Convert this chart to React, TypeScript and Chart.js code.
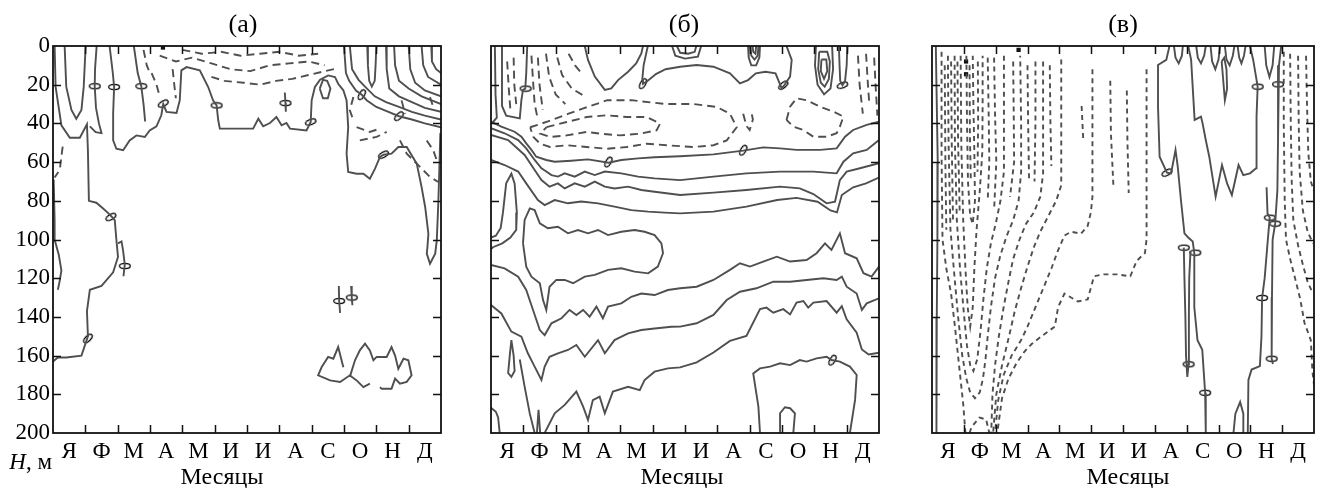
import React, { useEffect, useRef } from "react";
import { Chart, registerables } from "chart.js";
Chart.register(...registerables);

type Pt = [number, number];

const MONTHS = ["Я", "Ф", "М", "А", "М", "И", "И", "А", "С", "О", "Н", "Д"];
const DEPTH_TICKS = [0, 20, 40, 60, 80, 100, 120, 140, 160, 180, 200];
const MONTH_MARKS = [1, 2, 3, 4, 5, 6, 7, 8, 9, 10, 11];
const INNER_DEPTH_MARKS = [20, 40, 60, 80, 100, 120, 140, 160, 180];

// ---------------- panel (а) ----------------
const aSolid: Pt[][] = [
  [[0.36, 0], [0.41, 21], [0.57, 33], [0.72, 37.6], [0.88, 33], [0.95, 21], [1.01, 0]],
  [[0.05, 0], [0.08, 21], [0.26, 41], [0.52, 47.4], [0.83, 47.4], [1.05, 40.5], [1.08, 54], [1.11, 80], [1.34, 81], [1.55, 84], [1.75, 87], [1.91, 90], [1.96, 100], [2.01, 109], [1.86, 117], [1.5, 124], [1.14, 126], [1.05, 137], [1.08, 150], [0.88, 160], [0.41, 161], [0.15, 161], [0, 163]],
  [[1.35, 0], [1.3, 12], [1.29, 20.8], [1.33, 32], [1.42, 40], [1.5, 45], [1.32, 44.5], [1.14, 41.5]],
  [[2.5, 0], [2.62, 14], [2.73, 20.8], [2.8, 30], [2.85, 39]],
  [[2.01, 102], [2.12, 101], [2.17, 106], [2.22, 113], [2.18, 119]],
  [[1.75, 0], [1.85, 14], [1.89, 21.2], [1.86, 35], [1.86, 48.8], [1.96, 53.1], [2.17, 53.9], [2.37, 48.8], [2.58, 46.2], [2.84, 47], [2.99, 43.6], [3.2, 41.5], [3.35, 35.8], [3.41, 30], [3.51, 34.1], [3.82, 34.6], [3.92, 28.1], [3.97, 12.6], [4.13, 10.9], [4.54, 12.6], [4.8, 21.2], [4.95, 28.1], [5.06, 30.7], [5.11, 38.4], [5.16, 42.7], [5.57, 42.7], [6.19, 42.7], [6.35, 37.6], [6.5, 41.5], [6.71, 39.8], [6.91, 36.7], [7.07, 41], [7.22, 39.8], [7.33, 42.7], [7.84, 43.6], [7.97, 39.3], [8.0, 28.1], [8.1, 21.2], [8.26, 17.4], [8.51, 15.2], [8.72, 16], [8.82, 19.5], [8.98, 22.9], [9.08, 28.1], [9.13, 41.9], [9.08, 55.6], [9.13, 65.1], [9.39, 66], [9.6, 66], [9.8, 68.6], [9.96, 63.4], [10.11, 57.4], [10.22, 56.2], [10.47, 55.6], [10.68, 52.2], [10.94, 52.2], [11.25, 60.8], [11.4, 72.9], [11.51, 83.2], [11.61, 97], [11.58, 104], [11.56, 107.3], [11.66, 112.5], [11.82, 107.3], [11.87, 100.4], [11.92, 79.8], [11.95, 62.5], [11.98, 45]],
  [[7.17, 24], [7.19, 29.5], [7.2, 34]],
  [[8.25, 22], [8.35, 17.5], [8.48, 18], [8.58, 22], [8.5, 27], [8.35, 27], [8.25, 22]],
  [[9.0, 0], [9.06, 14], [9.16, 18], [9.37, 23], [9.55, 25.2], [9.7, 28], [10.0, 31.5], [10.3, 33.5], [10.7, 36.3], [11.1, 38], [11.5, 40], [12, 42]],
  [[9.18, 0], [9.25, 12], [9.45, 17.5], [9.65, 21], [9.95, 26], [10.3, 29], [10.7, 31.5], [11.1, 34], [11.5, 36], [12, 38]],
  [[9.72, 0], [9.74, 10], [9.78, 18], [9.86, 21], [9.95, 18], [9.98, 9], [10.0, 0]],
  [[10.3, 0], [10.32, 12], [10.4, 22], [10.7, 26], [11.1, 29], [11.5, 32], [12, 34]],
  [[10.55, 0], [10.58, 10], [10.7, 18], [11.0, 22], [11.4, 26], [12, 30]],
  [[11.0, 0], [11.05, 12], [11.2, 19], [11.5, 23], [12, 26]],
  [[11.4, 0], [11.45, 10], [11.6, 16], [12, 20]],
  [[11.7, 0], [11.72, 8], [11.85, 12], [12, 14]],
  [[0.02, 69], [0.05, 90], [0.05, 100], [0.18, 108], [0.26, 116], [0.2, 122], [0.15, 126]],
  [[8.98, 166], [8.82, 155.6], [8.67, 161.6], [8.51, 160.7], [8.31, 165.9], [8.2, 170.2], [8.57, 172.8], [8.88, 173.6], [9.18, 170.2], [9.39, 172.8], [9.6, 176.3], [9.8, 174.5]],
  [[9.18, 171], [9.34, 162.4], [9.49, 157.3], [9.65, 153.8], [9.8, 157.3], [9.91, 162.4], [10.01, 160.7], [10.32, 160.7], [10.47, 155.6], [10.58, 160], [10.68, 166.8], [10.84, 161.6], [10.99, 162.4], [11.09, 170.2], [10.94, 173.6], [10.73, 174.5], [10.58, 171.9], [10.47, 177.1], [10.17, 177.1], [10.11, 176.3]],
  [[8.84, 124], [8.85, 131.8], [8.88, 138]],
  [[9.22, 124], [9.24, 130], [9.26, 134]],
];
const aDashed: Pt[][] = [
  [[4.0, 2], [4.6, 4], [5.2, 3], [5.8, 5], [6.4, 4], [7.0, 3], [7.6, 5], [8.2, 4]],
  [[3.3, 5], [3.8, 8], [4.3, 6], [4.9, 9], [5.5, 12], [6.1, 13], [6.7, 10], [7.3, 9], [7.9, 8], [8.4, 10]],
  [[4.9, 16], [5.3, 18], [5.9, 19], [6.4, 20], [6.9, 18], [7.4, 17], [7.9, 15], [8.4, 13], [8.8, 11.5]],
  [[3.05, 14], [3.2, 20], [3.3, 26]],
  [[3.7, 12], [3.75, 20], [3.8, 27]],
  [[2.8, 2], [2.9, 10], [3.0, 14]],
  [[0.3, 52], [0.26, 57], [0.21, 64], [0.05, 68]],
  [[9.29, 26.4], [9.18, 33.2], [9.29, 38.4]],
  [[9.39, 41.9], [9.8, 44.4], [10.11, 42.7]],
  [[9.49, 48.8], [10.01, 47], [10.32, 44.4]],
  [[10.73, 48.8], [10.94, 55.6], [11.25, 60.8], [11.66, 67.7], [11.92, 70.3]],
  [[11.56, 48.8], [11.76, 53.9], [11.87, 59.1]],
  [[10.78, 28.1], [10.89, 35]],
  [[11.66, 26.4], [11.76, 31.5]],
];
const aLabels: Pt[] = [[1.29, 20.8], [1.89, 21.2], [2.73, 20.8], [3.41, 29.8], [5.06, 30.7], [7.19, 29.5], [7.97, 39.3], [9.55, 25.2], [10.7, 36.3], [10.22, 56.2], [1.79, 88.4], [2.22, 113.7], [8.85, 131.8], [9.24, 130], [1.08, 151.2]];
const aLabelRot = [0, 0, 0, -30, 0, 0, -20, -60, -45, -30, -30, 0, 0, 0, -45];
const aMarks: Pt[] = [[3.4, 0.8]];

// ---------------- panel (б) ----------------
const bSolid: Pt[][] = [
  [[0.34, 0], [0.34, 31], [0.47, 36], [0.89, 37.4], [0.94, 28], [0.99, 22.7], [1.06, 22], [1.09, 14], [1.12, 0]],
  [[0.12, 0], [0.14, 25], [0.18, 37], [0.05, 39.5], [0, 39.5]],
  [[0, 39.1], [0.32, 41.7], [0.73, 44.3], [0.94, 46.9], [1.09, 50.3], [1.25, 53.7], [1.4, 57.2], [1.71, 58.9], [1.97, 59.8], [2.48, 59.3], [3.0, 58.6], [3.64, 60.3], [4.03, 58.9], [4.55, 58.1], [5.06, 57.5], [5.85, 57], [6.88, 56], [7.8, 54.1], [8.42, 52.4], [8.94, 52.9], [9.45, 53.7], [10.18, 53.7], [10.69, 52.9], [10.95, 46.9], [11.2, 43.4], [11.62, 40.8], [12, 39.1]],
  [[0, 42.5], [0.42, 45.1], [0.84, 48.6], [1.09, 52.9], [1.35, 58.9], [1.56, 63.2], [1.71, 64.9], [1.87, 66.7], [2.07, 67.5], [2.28, 65.8], [2.59, 67.5], [2.9, 64.9], [3.21, 66.7], [3.52, 64.9], [4.03, 65.8], [4.55, 67.5], [5.06, 68.4], [5.85, 69.3], [6.88, 67.5], [7.9, 65.8], [8.94, 64.9], [9.97, 64.9], [10.69, 65.8], [10.9, 59.8], [11.2, 55.5], [11.62, 53.7], [12, 48.6]],
  [[0, 46], [0.53, 48.6], [1.04, 56.3], [1.35, 64.1], [1.56, 69.3], [1.81, 72.7], [2.07, 71], [2.28, 73.6], [2.59, 71], [2.9, 72.7], [3.21, 70.1], [3.52, 72.7], [3.82, 73.6], [4.24, 72.7], [4.65, 74.4], [5.06, 75.3], [5.85, 77], [6.88, 75.8], [7.9, 74.4], [8.94, 72.7], [9.55, 73.6], [9.97, 76.5], [10.38, 81.3], [10.64, 80.4], [10.79, 69.3], [11.0, 64.9], [11.41, 63.2], [12, 60.6]],
  [[0, 58.9], [0.42, 61.5], [0.84, 64.9], [1.09, 71], [1.45, 79.6], [1.66, 82.2], [1.97, 79.6], [2.38, 81.3], [2.79, 80.4], [3.31, 81.3], [3.82, 83], [4.34, 84.8], [4.86, 85.6], [5.37, 86.1], [5.85, 86.5], [6.88, 85.6], [7.9, 83], [8.85, 79.6], [9.45, 78.5], [10.1, 80.5], [10.5, 85], [10.7, 86], [10.85, 77], [11.2, 73], [11.6, 71], [12, 68]],
  [[0, 99], [0.15, 98], [0.3, 94], [0.37, 86], [0.47, 71], [0.63, 66], [0.73, 71], [0.8, 86], [0.78, 95], [0.6, 99], [0.35, 102], [0.06, 104], [0, 105]],
  [[0.99, 102], [1.04, 89.9], [1.2, 83.9], [1.35, 84.8], [1.51, 91.6], [1.76, 94.2], [2.07, 93.4], [2.38, 96.8], [2.69, 95.1], [3.0, 96.8], [3.31, 95.1], [3.62, 97.7], [4.03, 96.0], [4.44, 95.1], [4.75, 96.0], [5.06, 97.7], [5.27, 102], [5.32, 107.1], [5.16, 114], [4.86, 117.5], [4.44, 116.6], [4.03, 114.9], [3.62, 115.7], [3.21, 118.3], [2.9, 119.2], [2.54, 122.6], [2.28, 120.9], [2.02, 120.9], [1.81, 124.4], [1.71, 136.4], [1.61, 131.3], [1.51, 122.6], [1.25, 119.2], [1.09, 114], [0.99, 102]],
  [[0, 113.2], [0.42, 114.9], [0.84, 119.2], [1.09, 126.1], [1.3, 136.4], [1.51, 146.8], [1.66, 149.4], [1.87, 143.3], [2.18, 140.7], [2.43, 136.4], [2.64, 139], [2.85, 136.4], [3.05, 139.9], [3.26, 134.7], [3.46, 140.7], [3.62, 134.7], [4.03, 133], [4.34, 129.6], [4.65, 127.9], [5.06, 128.7], [5.47, 126.1], [5.85, 125.2], [6.36, 124.4], [6.88, 120.9], [7.39, 115.7], [7.7, 112.3], [8.01, 114], [8.42, 111.4], [8.84, 108.9], [9.25, 111.4], [9.76, 110.6], [10.07, 107.1], [10.33, 102], [10.53, 105.4], [10.79, 96.8], [10.95, 107.1], [11.31, 109.7], [11.52, 117.4], [11.77, 119.2], [12, 114]],
  [[0, 133.8], [0.32, 138.2], [0.63, 147.6], [0.94, 150.2], [1.14, 158.8], [1.35, 165.7], [1.56, 172.6], [1.66, 165.7], [1.81, 160.6], [2.07, 158.8], [2.38, 157.1], [2.64, 154.5], [2.9, 160.6], [3.31, 152], [3.52, 158.8], [3.82, 152], [4.24, 148.5], [4.65, 146.8], [5.06, 146], [5.58, 145.1], [5.85, 145], [6.36, 143.3], [6.88, 139], [7.29, 131.3], [7.7, 127], [8.21, 125.2], [8.73, 121.8], [9.25, 121.8], [9.76, 120.9], [10.28, 120], [10.69, 120.9], [10.85, 119.2], [11.0, 124.4], [11.31, 127.9], [11.47, 136.4], [11.62, 133], [12, 130.4]],
  [[1.66, 200], [1.97, 189.8], [2.28, 185.5], [2.64, 178.6], [2.85, 186.4], [3.0, 193.3], [3.15, 183], [3.36, 181.2], [3.52, 189.8], [3.77, 178.6], [4.24, 176.1], [4.6, 177.8], [4.75, 172.6], [5.06, 168.3], [5.47, 166.6], [5.85, 166.1], [6.36, 163.5], [6.88, 158.4], [7.39, 152.4], [7.9, 149.8], [8.32, 136], [8.52, 135.2], [8.73, 137.8], [9.04, 136], [9.25, 138.7], [9.45, 132.6], [9.66, 131.8], [9.81, 135.2], [9.97, 132.6], [10.38, 131.8], [10.69, 137.8], [10.85, 134.4], [11.0, 141.3], [11.31, 148.2], [11.47, 156.8], [11.68, 159.4], [12, 158.5]],
  [[8.32, 200], [8.27, 186.4], [8.11, 169.2], [8.32, 166.6], [8.63, 165.7], [8.94, 164], [9.25, 164.9], [9.55, 162.3], [9.76, 163.1], [10.07, 161.4], [10.38, 160.6], [10.53, 162.3], [10.79, 163.1], [11.1, 165.7], [11.31, 170], [11.26, 182.9], [11.1, 200]],
  [[8.94, 200], [8.94, 189.8], [9.09, 186.7], [9.25, 187.2], [9.4, 189.8], [9.35, 200]],
  [[0.63, 152], [0.7, 160], [0.73, 168], [0.63, 171], [0.53, 169], [0.58, 160], [0.63, 152]],
  [[0.89, 162], [1.04, 176], [1.2, 190], [1.35, 200]],
  [[1.42, 200], [1.47, 188], [1.52, 200]],
  [[0, 187], [0.15, 189], [0.22, 192], [0.27, 200]],
  [[2.9, 0], [3.0, 7.2], [3.21, 15.8], [3.52, 22.7], [3.72, 21.9], [3.93, 17.6], [4.24, 13.3], [4.49, 9], [4.65, 3.8], [4.7, 0]],
  [[4.85, 0], [4.72, 10], [4.68, 17], [4.7, 19.5], [4.85, 18], [5.1, 14.5], [5.4, 12], [5.85, 10.7], [6.36, 9.8], [6.88, 10.7], [7.39, 14.1], [7.7, 19.3], [7.95, 17.6], [8.19, 14.1], [8.49, 13.3], [8.8, 14.1], [8.99, 21.9], [9.06, 20.5], [9.25, 15.8], [9.3, 7.2], [9.14, 0]],
  [[7.95, 0], [7.97, 6], [8.05, 10], [8.2, 10], [8.3, 6], [8.32, 0]],
  [[8.02, 0], [8.05, 5], [8.15, 7], [8.25, 5], [8.27, 0]],
  [[8.09, 0], [8.11, 3], [8.18, 4], [8.2, 0]],
  [[5.6, 0], [5.7, 5], [6.0, 6.5], [6.4, 5.5], [6.5, 0]],
  [[5.75, 0], [5.85, 3.5], [6.1, 4], [6.3, 3], [6.35, 0]],
  [[10.05, 0], [10.02, 10], [10.1, 20], [10.3, 25], [10.5, 22], [10.58, 12], [10.55, 0]],
  [[10.15, 3], [10.12, 12], [10.2, 19], [10.32, 21], [10.45, 17], [10.48, 8], [10.4, 3], [10.15, 3]],
  [[10.22, 7], [10.2, 13], [10.3, 17], [10.4, 13], [10.37, 7], [10.22, 7]],
  [[10.76, 0], [10.78, 10], [10.8, 18], [10.87, 20.3], [10.95, 18], [11.0, 10], [11.02, 0]],
];
const bDashed: Pt[][] = [
  [[1.21, 42], [1.76, 39], [2.4, 35], [2.9, 32], [3.6, 28], [4.34, 28], [5.4, 30], [6.26, 30], [6.98, 31.5], [7.39, 35], [7.6, 42], [7.29, 48.8], [6.88, 51.3], [6.26, 52.2], [5.43, 51.3], [4.81, 50.5], [4.2, 52.2], [3.58, 53.1], [2.96, 52.2], [2.34, 51.3], [1.82, 52.2], [1.52, 50.5], [1.31, 47], [1.21, 42]],
  [[1.72, 41.9], [2.34, 39.3], [2.96, 36.7], [3.58, 35.8], [4.2, 36.7], [4.81, 36.7], [5.23, 40.1], [5.12, 43.6], [4.61, 45.3], [3.99, 46.2], [3.37, 45.3], [2.96, 44.4], [2.34, 46.2], [1.82, 47], [1.52, 45.3], [1.72, 41.9]],
  [[9.14, 38.2], [9.25, 31.4], [9.45, 27], [9.76, 28], [10.18, 31.4], [10.59, 33.9], [10.9, 36.5], [10.79, 41.7], [10.69, 45.1], [10.38, 46.9], [9.97, 46.9], [9.66, 43.4], [9.35, 41.7], [9.14, 38.2]],
  [[7.8, 35], [7.9, 41.3], [8.0, 43.4], [8.1, 38], [8.05, 34]],
  [[0.5, 8], [0.55, 22], [0.6, 33]],
  [[0.7, 6], [0.72, 20], [0.78, 30]],
  [[1.25, 5], [1.3, 18], [1.35, 30], [1.45, 38]],
  [[1.45, 6], [1.5, 20], [1.6, 33]],
  [[1.7, 4], [1.8, 16], [2.0, 25], [2.3, 30]],
  [[2.05, 6], [2.2, 15], [2.5, 22], [2.9, 26]],
  [[2.4, 4], [2.6, 10], [2.8, 14]],
  [[11.35, 5], [11.4, 20], [11.5, 35]],
  [[11.6, 4], [11.65, 18], [11.7, 30]],
  [[11.85, 6], [11.9, 22], [11.95, 36]],
];
const bLabels: Pt[] = [[1.07, 22], [4.7, 19.5], [9.04, 20.3], [10.87, 20.3], [3.63, 60], [7.8, 53.9], [10.56, 162.4]];
const bLabelRot = [0, -60, -40, -20, -60, -60, -60];
const bMarks: Pt[] = [[10.76, 1.5]];

// ---------------- panel (в) ----------------
const cSolid: Pt[][] = [
  [[0.12, 0], [0.14, 20], [0.18, 60], [0.17, 100], [0.15, 140], [0.14, 200]],
  [[7.46, 0], [7.36, 7.2], [7.1, 9.8], [7.1, 31.4], [7.15, 57.2], [7.38, 65.5], [7.51, 65.8], [7.65, 53.7], [7.72, 62.4], [7.82, 79.6], [7.93, 96.8], [8.05, 99], [8.19, 101], [8.24, 107], [8.24, 135], [8.34, 152], [8.49, 157], [8.58, 179.2], [8.6, 200]],
  [[7.91, 104.2], [7.93, 120], [7.96, 140], [7.98, 160], [8.02, 171], [8.06, 164.5], [8.07, 140], [8.08, 120], [8.12, 106]],
  [[8.05, 0], [8.14, 7.2], [8.25, 38.2], [8.45, 36.5], [8.5, 40], [8.6, 48.6], [8.71, 57.2], [8.91, 77.9], [9.11, 61.5], [9.27, 71], [9.42, 77], [9.63, 61.5], [9.78, 66.7], [9.99, 65.8], [10.18, 63.2], [10.2, 48.6], [10.19, 36.5], [10.23, 21], [10.09, 7.2], [9.99, 0]],
  [[10.97, 0], [10.9, 10], [10.87, 19.8], [10.87, 48.6], [10.85, 74.4], [10.78, 91.8], [10.7, 100], [10.68, 130], [10.67, 161.6], [10.71, 164.3]],
  [[10.51, 73], [10.54, 86.5], [10.61, 88.7], [10.55, 100], [10.45, 120], [10.37, 130.2], [10.35, 150], [10.3, 165.4], [10.04, 167.2], [9.94, 172.6], [9.92, 200]],
  [[9.47, 200], [9.53, 190], [9.68, 184], [9.78, 190], [9.78, 200]],
  [[7.6, 0], [7.65, 6], [7.75, 9], [7.85, 5], [7.88, 0]],
  [[8.3, 0], [8.35, 6], [8.45, 9], [8.55, 5], [8.6, 0]],
  [[8.75, 0], [8.8, 8], [8.9, 12], [9.0, 7], [9.05, 0]],
  [[9.2, 0], [9.25, 7], [9.35, 10], [9.45, 5], [9.5, 0]],
  [[9.1, 8], [9.15, 18], [9.2, 28], [9.27, 22], [9.25, 12], [9.18, 6], [9.1, 8]],
  [[9.6, 0], [9.65, 6], [9.72, 9], [9.8, 5], [9.85, 0]],
  [[10.45, 0], [10.5, 10], [10.6, 16], [10.7, 10], [10.75, 0]],
];
const cDashed: Pt[][] = [
  [[0.3, 3], [0.3, 55], [0.33, 100], [0.45, 115], [0.6, 128], [0.72, 145], [0.85, 165], [0.98, 185], [1.05, 200]],
  [[0.5, 5], [0.52, 50], [0.58, 95], [0.7, 118], [0.82, 140], [0.95, 160], [1.08, 172], [1.2, 179], [1.35, 182], [1.5, 179], [1.6, 172], [1.68, 162], [1.75, 150], [1.85, 135], [1.98, 120], [2.15, 108], [2.35, 98], [2.55, 90], [2.72, 80], [2.8, 65], [2.8, 40], [2.77, 5]],
  [[0.71, 5], [0.72, 50], [0.78, 90], [0.88, 115], [1.0, 138], [1.1, 155], [1.2, 165], [1.3, 168], [1.42, 162], [1.52, 148], [1.62, 130], [1.72, 115], [1.85, 102], [2.0, 92], [2.15, 80], [2.26, 65], [2.26, 40], [2.26, 4]],
  [[0.9, 5], [0.92, 50], [0.98, 90], [1.05, 115], [1.12, 135], [1.2, 145], [1.28, 135], [1.33, 115], [1.4, 95], [1.5, 75], [1.58, 55], [1.59, 30], [1.59, 5]],
  [[1.08, 5], [1.1, 40], [1.13, 70], [1.2, 88], [1.28, 92], [1.35, 80], [1.33, 55], [1.3, 30], [1.28, 5]],
  [[1.18, 200], [1.24, 197], [1.49, 192], [1.7, 193], [1.8, 200]],
  [[3.49, 8], [3.49, 66], [3.4, 78], [3.2, 86], [2.95, 92], [2.75, 100], [2.55, 110], [2.4, 122], [2.25, 135], [2.1, 150], [1.98, 165], [1.9, 180], [1.86, 200]],
  [[4.06, 7], [4.06, 72], [3.9, 80], [3.65, 88], [3.4, 96], [3.2, 104], [3.0, 114], [2.8, 125], [2.6, 137], [2.42, 150], [2.2, 165], [2.02, 180], [1.92, 200]],
  [[5.04, 12], [5.04, 50], [5.04, 78], [4.99, 86], [4.89, 93], [4.68, 97], [4.37, 96], [4.16, 98], [3.95, 106], [3.75, 115], [3.5, 125], [3.25, 135], [3.0, 145], [2.8, 152], [2.5, 160], [2.25, 170], [2.08, 183], [1.98, 200]],
  [[6.74, 12], [6.74, 40], [6.74, 70], [6.74, 100], [6.69, 107], [6.43, 111], [6.23, 119], [5.81, 118], [5.4, 118], [5.09, 119], [4.89, 131], [4.58, 132], [4.16, 128], [3.96, 135], [3.86, 145], [3.44, 150], [3.13, 154], [2.9, 158], [2.65, 164], [2.4, 172], [2.2, 182], [2.05, 200]],
  [[5.6, 18], [5.62, 45], [5.7, 73]],
  [[6.12, 23], [6.14, 50], [6.18, 76]],
  [[4.7, 31], [4.75, 48]],
  [[3.7, 10], [3.72, 40], [3.75, 62]],
  [[2.55, 8], [2.57, 40], [2.58, 60], [2.45, 78]],
  [[0.4, 10], [0.42, 60], [0.45, 95]],
  [[0.6, 8], [0.62, 50], [0.66, 90]],
  [[0.8, 8], [0.82, 50], [0.87, 85]],
  [[1.18, 10], [1.19, 45], [1.22, 70]],
  [[1.44, 8], [1.45, 40], [1.43, 65]],
  [[1.75, 6], [1.78, 35], [1.8, 60], [1.75, 80]],
  [[1.95, 6], [1.98, 35], [2.02, 60], [1.95, 85]],
  [[3.0, 10], [3.02, 40], [3.05, 70]],
  [[3.25, 8], [3.25, 40], [3.22, 70]],
  [[11.05, 3], [11.05, 40], [11.08, 80], [11.12, 100], [11.25, 110], [11.42, 121], [11.57, 131], [11.7, 143], [11.9, 152], [11.95, 168], [12, 175]],
  [[11.25, 4], [11.27, 40], [11.3, 70], [11.35, 90], [11.5, 103], [11.65, 113], [11.8, 122], [11.97, 128]],
  [[11.5, 5], [11.52, 40], [11.55, 65], [11.65, 85], [11.8, 96], [11.97, 102]],
  [[11.75, 5], [11.78, 30], [11.82, 55], [11.9, 70], [12, 75]],
];
const cLabels: Pt[] = [[7.38, 65.5], [7.91, 104.2], [8.27, 106.8], [8.06, 164.5], [8.58, 179.2], [10.23, 21], [10.87, 19.8], [10.61, 88.7], [10.78, 91.8], [10.37, 130.2], [10.67, 161.6]];
const cLabelRot = [-30, 0, 0, 0, 0, 0, 0, 0, 0, 0, 0];
const cMarks: Pt[] = [[1.07, 8], [1.07, 14.6], [2.72, 2]];

// ---------------- rendering ----------------
const FONT = '"Liberation Serif", "Times New Roman", serif';
const LINE = "#4f4f4f";

interface PanelSpec {
  title: string;
  solid: Pt[][];
  dashed: Pt[][];
  dash: number[];
  labels: Pt[];
  labelRot: number[];
  marks: Pt[];
  showY: boolean;
  yWidth: number;
  padRight: number;
  titleShift: number;
  xlabelShift: number;
  showH: boolean;
}

let zeroMark: HTMLCanvasElement | null = null;
function getZeroMark(): HTMLCanvasElement {
  if (zeroMark) return zeroMark;
  const c = document.createElement("canvas");
  c.width = 14;
  c.height = 8;
  const g = c.getContext("2d")!;
  g.beginPath();
  g.ellipse(7, 4, 5.4, 2.6, 0, 0, Math.PI * 2);
  g.fillStyle = "#fff";
  g.fill();
  g.lineWidth = 1.3;
  g.strokeStyle = "#000";
  g.stroke();
  zeroMark = c;
  return c;
}

function lineSet(pts: Pt[], dash: number[] | null) {
  return {
    data: pts.map(([x, y]) => ({ x, y })),
    showLine: true,
    borderColor: LINE,
    borderWidth: 1.9,
    borderDash: dash || [],
    pointRadius: 0,
    pointHoverRadius: 0,
    tension: 0,
    fill: false,
  };
}

const framePlugin = {
  id: "frameTicks",
  afterDatasetsDraw(chart: any) {
    const { ctx, chartArea: a, scales } = chart;
    const xs = scales.x;
    const ys = scales.y;
    ctx.save();
    ctx.strokeStyle = "#111";
    ctx.lineWidth = 1.5;
    ctx.beginPath();
    const L = 8;
    MONTH_MARKS.forEach((m) => {
      const px = Math.round(xs.getPixelForValue(m)) + 0.5;
      ctx.moveTo(px, a.bottom);
      ctx.lineTo(px, a.bottom - L);
      ctx.moveTo(px, a.top);
      ctx.lineTo(px, a.top + L);
    });
    INNER_DEPTH_MARKS.forEach((d) => {
      const py = Math.round(ys.getPixelForValue(d)) + 0.5;
      ctx.moveTo(a.left, py);
      ctx.lineTo(a.left + L, py);
      ctx.moveTo(a.right, py);
      ctx.lineTo(a.right - L, py);
    });
    ctx.stroke();
    ctx.lineWidth = 1.8;
    ctx.strokeRect(a.left, a.top, a.right - a.left, a.bottom - a.top);
    ctx.restore();
  },
};

function textPlugin(spec: PanelSpec) {
  return {
    id: "panelText",
    afterDraw(chart: any) {
      const { ctx, chartArea: a } = chart;
      const cx = (a.left + a.right) / 2;
      ctx.save();
      ctx.fillStyle = "#000";
      ctx.textBaseline = "alphabetic";
      ctx.textAlign = "center";
      ctx.font = `26px ${FONT}`;
      ctx.fillText(spec.title, cx + spec.titleShift, 32);
      ctx.font = `24px ${FONT}`;
      ctx.fillText("Месяцы", cx + spec.xlabelShift, 484);
      if (spec.showH) {
        ctx.textAlign = "left";
        ctx.font = `23px ${FONT}`;
        const rest = ", м";
        const wRest = ctx.measureText(rest).width;
        ctx.font = `italic 23px ${FONT}`;
        const wH = ctx.measureText("H").width;
        const x0 = a.left - 1 - wRest - wH;
        ctx.fillText("H", x0, 469);
        ctx.font = `23px ${FONT}`;
        ctx.fillText(rest, x0 + wH, 469);
      }
      ctx.restore();
    },
  };
}

function makeConfig(spec: PanelSpec): any {
  const datasets: any[] = [];
  spec.solid.forEach((p) => datasets.push(lineSet(p, null)));
  spec.dashed.forEach((p) => datasets.push(lineSet(p, spec.dash)));
  datasets.push({
    data: spec.marks.map(([x, y]) => ({ x, y })),
    showLine: false,
    pointStyle: "rect",
    pointRadius: 3,
    pointBackgroundColor: "#111",
    pointBorderColor: "#111",
    pointBorderWidth: 0,
  });
  datasets.push({
    data: spec.labels.map(([x, y]) => ({ x, y })),
    showLine: false,
    pointStyle: getZeroMark(),
    pointRotation: spec.labelRot,
    pointRadius: 5,
  });
  return {
    type: "scatter",
    data: { datasets },
    options: {
      animation: false,
      responsive: false,
      devicePixelRatio: 1,
      events: [],
      layout: { padding: { left: 0, right: spec.padRight, top: 46, bottom: 0 } },
      plugins: { legend: { display: false }, tooltip: { enabled: false }, title: { display: false } },
      scales: {
        x: {
          type: "linear",
          position: "bottom",
          min: 0,
          max: 12,
          afterBuildTicks: (s: any) => {
            s.ticks = MONTHS.map((_, i) => ({ value: i + 0.5 }));
          },
          afterFit: (s: any) => {
            s.height = 55;
          },
          ticks: {
            autoSkip: false,
            maxRotation: 0,
            minRotation: 0,
            padding: 5,
            color: "#000",
            font: { family: FONT, size: 23 },
            callback: (_v: any, i: number) => MONTHS[i],
          },
          grid: { display: false, drawTicks: false },
          border: { display: false },
        },
        y: {
          type: "linear",
          reverse: true,
          min: 0,
          max: 200,
          afterBuildTicks: (s: any) => {
            s.ticks = DEPTH_TICKS.map((v) => ({ value: v }));
          },
          afterFit: (s: any) => {
            s.width = spec.yWidth;
          },
          ticks: {
            display: spec.showY,
            padding: 3,
            color: "#000",
            font: { family: FONT, size: 23 },
          },
          grid: { display: false, drawTicks: false },
          border: { display: false },
        },
      },
    },
    plugins: [framePlugin, textPlugin(spec)],
  };
}

const PANEL_A: PanelSpec = { title: "(а)", solid: aSolid, dashed: aDashed, dash: [8, 5], labels: aLabels, labelRot: aLabelRot, marks: aMarks, showY: true, yWidth: 53, padRight: 19, titleShift: -4, xlabelShift: -25, showH: true };
const PANEL_B: PanelSpec = { title: "(б)", solid: bSolid, dashed: bDashed, dash: [8, 5], labels: bLabels, labelRot: bLabelRot, marks: bMarks, showY: false, yWidth: 31, padRight: 21, titleShift: -1, xlabelShift: -3, showH: false };
const PANEL_C: PanelSpec = { title: "(в)", solid: cSolid, dashed: cDashed, dash: [5, 4], labels: cLabels, labelRot: cLabelRot, marks: cMarks, showY: false, yWidth: 32, padRight: 1, titleShift: 0, xlabelShift: 5, showH: false };

function Panel({ spec, left, width }: { spec: PanelSpec; left: number; width: number }) {
  const ref = useRef<HTMLCanvasElement>(null);
  useEffect(() => {
    const chart = new Chart(ref.current!, makeConfig(spec));
    return () => chart.destroy();
  }, [spec]);
  return (
    <canvas
      ref={ref}
      width={width}
      height={488}
      style={{ position: "absolute", left, top: 0, width, height: 488, display: "block" }}
    />
  );
}

export default function App() {
  useEffect(() => {
    document.body.style.margin = "0";
    document.body.style.background = "#fff";
  }, []);
  return (
    <div style={{ position: "absolute", left: 0, top: 0, width: 1320, height: 488, background: "#fff", overflow: "hidden" }}>
      <Panel spec={PANEL_A} left={0} width={460} />
      <Panel spec={PANEL_B} left={460} width={440} />
      <Panel spec={PANEL_C} left={900} width={420} />
    </div>
  );
}
